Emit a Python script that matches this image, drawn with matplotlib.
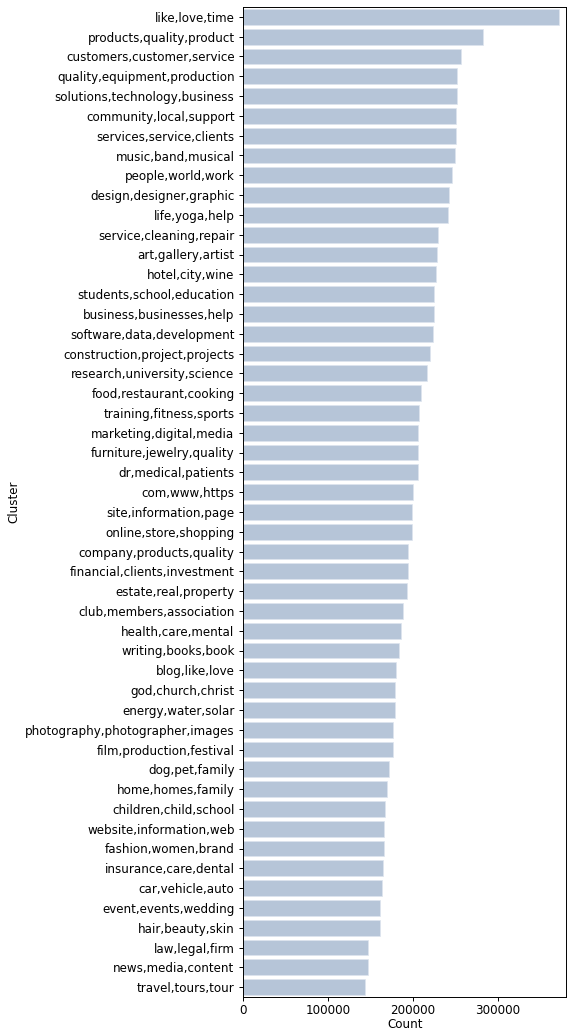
import matplotlib
matplotlib.use('Agg')
import matplotlib.pyplot as plt
import numpy as np

clusters = [
    'like,love,time', 'products,quality,product', 'customers,customer,service',
    'quality,equipment,production', 'solutions,technology,business',
    'community,local,support', 'services,service,clients', 'music,band,musical',
    'people,world,work', 'design,designer,graphic', 'life,yoga,help',
    'service,cleaning,repair', 'art,gallery,artist', 'hotel,city,wine',
    'students,school,education', 'business,businesses,help',
    'software,data,development', 'construction,project,projects',
    'research,university,science', 'food,restaurant,cooking',
    'training,fitness,sports', 'marketing,digital,media',
    'furniture,jewelry,quality', 'dr,medical,patients', 'com,www,https',
    'site,information,page', 'online,store,shopping', 'company,products,quality',
    'financial,clients,investment', 'estate,real,property',
    'club,members,association', 'health,care,mental', 'writing,books,book',
    'blog,like,love', 'god,church,christ', 'energy,water,solar',
    'photography,photographer,images', 'film,production,festival',
    'dog,pet,family', 'home,homes,family', 'children,child,school',
    'website,information,web', 'fashion,women,brand', 'insurance,care,dental',
    'car,vehicle,auto', 'event,events,wedding', 'hair,beauty,skin',
    'law,legal,firm', 'news,media,content', 'travel,tours,tour',
]

counts = [
    372200, 282400, 256500, 252200, 252200, 251400, 250600, 249800, 246300,
    243100, 241200, 230200, 228600, 227800, 225500, 225500, 223500, 220400,
    216900, 209800, 207500, 206300, 206300, 206300, 200000, 199200, 198800,
    194500, 194100, 193300, 189000, 186300, 184300, 180000, 179200, 179200,
    176900, 176900, 171400, 170200, 166700, 166300, 165900, 165500, 163900,
    161600, 160800, 147800, 147000, 143900,
]

W, H, DPI = 567, 1032, 87
fig = plt.figure(figsize=(W / DPI, H / DPI), dpi=DPI)
ax = fig.add_axes([243 / W, (H - 997) / H, 1 - 243 / W - 0.001, (997 - 7) / H])

y = np.arange(len(clusters))
ax.barh(y, counts, height=0.8, color='#b6c5d8', edgecolor='#dde4ee', linewidth=0.6)

ax.set_yticks(y)
ax.set_yticklabels(clusters, fontsize=9.8)
ax.set_ylim(len(clusters) - 0.5, -0.5)
ax.set_xlim(0, 381000)
ax.set_xticks([0, 100000, 200000, 300000])
ax.tick_params(axis='x', labelsize=9.8, pad=2.5)
ax.set_xlabel('Count', fontsize=9.8, labelpad=1)
ax.set_ylabel('Cluster', fontsize=9.8)

plt.savefig('out.png', dpi=DPI)
plt.close()
